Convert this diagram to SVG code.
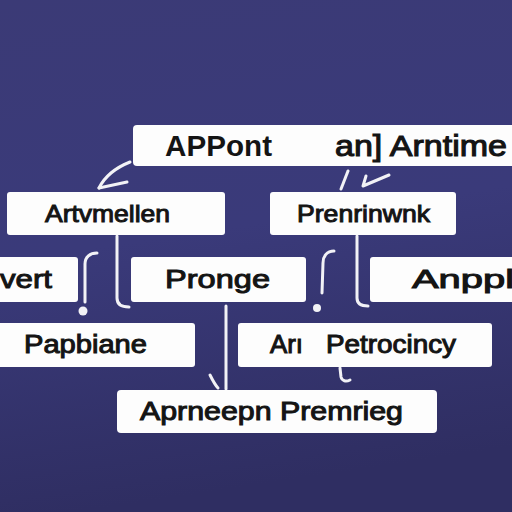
<svg xmlns="http://www.w3.org/2000/svg" width="512" height="512" viewBox="0 0 512 512">
  <defs>
    <linearGradient id="bg" x1="0" y1="0" x2="0.15" y2="1">
      <stop offset="0" stop-color="#3b3a76"/>
      <stop offset="0.5" stop-color="#3a3a7a"/>
      <stop offset="1" stop-color="#2f2e62"/>
    </linearGradient>
    <style>
      .box { fill: #fdfdfd; }
      .lbl { font-family: "Liberation Sans", Arial, sans-serif; fill: #141414; stroke: #141414; stroke-width: 1; }
      .big { font-family: "Liberation Sans", Arial, sans-serif; fill: #141414; }
      .ln { fill: none; stroke: #f2f2f6; stroke-width: 3; stroke-linecap: round; stroke-linejoin: round; }
      .dot { fill: #f2f2f6; }
    </style>
  </defs>
  <rect x="0" y="0" width="512" height="512" fill="url(#bg)"/>

  <g id="connectors">
    <path class="ln" d="M130,162 C115,168 104,178 99,188"/>
    <path class="ln" d="M99,188 L127,182"/>
    <path class="ln" d="M348,171 L341,189"/>
    <path class="ln" d="M366,176 L363,186 L389,175"/>
    <path class="ln" d="M117,236 L117,298 C117,304 121,307 129,307"/>
    <path class="ln" d="M97,253 C90,253 85,257 85,264 L85,302"/>
    <circle class="dot" cx="83" cy="311" r="4.5"/>
    <path class="ln" d="M357,236 L357,298 C357,304 361,306 368,306"/>
    <path class="ln" d="M334,251 C327,251 323,256 323,263 L322,293"/>
    <circle class="dot" cx="317" cy="308" r="4"/>
    <path class="ln" d="M226,306 L226,389"/>
    <path class="ln" d="M210,375 C213,381 215,385 218,388"/>
    <path class="ln" d="M340,368 L341,377 C342,381 346,382 350,380"/>
  </g>

  <g id="node-apppont">
    <rect class="box" x="133" y="125" width="385" height="41" rx="4"/>
    <text class="big" x="165" y="156" font-size="30" font-weight="bold" textLength="107" lengthAdjust="spacingAndGlyphs">APPont</text>
    <text class="big" x="335" y="156" font-size="30" stroke="#141414" stroke-width="1.1" textLength="172" lengthAdjust="spacingAndGlyphs">an] Arntime</text>
  </g>

  <g id="node-artvmellen">
    <rect class="box" x="7" y="192" width="218" height="43" rx="3"/>
    <text class="lbl" x="45" y="222" font-size="24" textLength="125" lengthAdjust="spacingAndGlyphs">Artvmellen</text>
  </g>

  <g id="node-prenrinwnk">
    <rect class="box" x="270" y="192" width="186" height="43" rx="3"/>
    <text class="lbl" x="297" y="222" font-size="24" textLength="133" lengthAdjust="spacingAndGlyphs">Prenrinwnk</text>
  </g>

  <g id="node-vert">
    <rect class="box" x="-6" y="257" width="84" height="45" rx="3"/>
    <text class="lbl" x="0" y="288" font-size="26" textLength="52" lengthAdjust="spacingAndGlyphs">vert</text>
  </g>

  <g id="node-pronge">
    <rect class="box" x="131" y="257" width="175" height="45" rx="3"/>
    <text class="lbl" x="165" y="288" font-size="26" textLength="105" lengthAdjust="spacingAndGlyphs">Pronge</text>
  </g>

  <g id="node-anppl">
    <rect class="box" x="370" y="257" width="150" height="45" rx="3"/>
    <text class="lbl" x="412" y="288" font-size="26" textLength="102" lengthAdjust="spacingAndGlyphs">Anppl</text>
  </g>

  <g id="node-papbiane">
    <rect class="box" x="-6" y="323" width="201" height="44" rx="3"/>
    <text class="lbl" x="24" y="353" font-size="25" textLength="123" lengthAdjust="spacingAndGlyphs">Papbiane</text>
  </g>

  <g id="node-petrocincy">
    <rect class="box" x="238" y="323" width="254" height="44" rx="3"/>
    <text class="lbl" x="270" y="353" font-size="25" textLength="33" lengthAdjust="spacingAndGlyphs">Arı</text>
    <text class="lbl" x="326" y="353" font-size="25" textLength="130" lengthAdjust="spacingAndGlyphs">Petrocincy</text>
  </g>

  <g id="node-aprneepn">
    <rect class="box" x="117" y="390" width="320" height="43" rx="4"/>
    <text class="lbl" x="140" y="420" font-size="25" textLength="263" lengthAdjust="spacingAndGlyphs">Aprneepn Premrieg</text>
  </g>
</svg>
